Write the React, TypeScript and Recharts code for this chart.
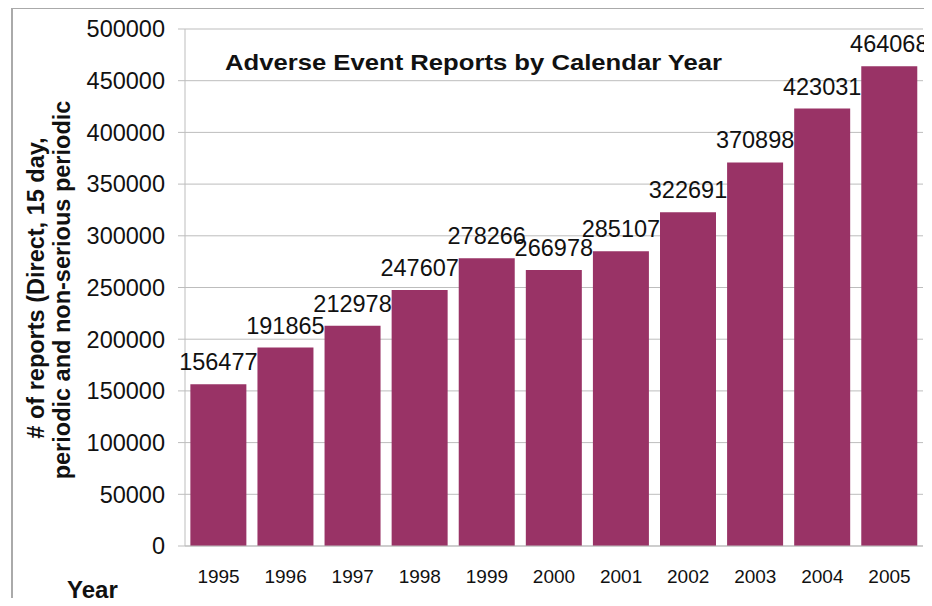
import { Bar, BarChart, CartesianGrid, LabelList, XAxis, YAxis } from "recharts";

const years = ["1995", "1996", "1997", "1998", "1999", "2000", "2001", "2002", "2003", "2004", "2005"];
const reports = [156477, 191865, 212978, 247607, 278266, 266978, 285107, 322691, 370898, 423031, 464068];
const yTicks = [0, 50000, 100000, 150000, 200000, 250000, 300000, 350000, 400000, 450000, 500000];

const data = years.map((year, i) => ({ year, reports: reports[i] }));

const FONT = "'Liberation Sans', Arial, sans-serif";
const BAR_COLOR = "#993366";
const GRID = "#bdbdbd";

export default function App() {
  return (
    <div style={{ position: "relative", width: 932, height: 606, margin: -8, background: "#fff", fontFamily: FONT }}>
      {/* frame */}
      <div
        style={{
          position: "absolute",
          left: 11,
          top: 7,
          right: -2,
          bottom: -2,
          borderLeft: "2px solid #aaa",
          borderTop: "2px solid #aaa",
        }}
      />
      <BarChart
        width={932}
        height={606}
        data={data}
        margin={{ top: 29, right: 9, left: 0, bottom: 30 }}
        barCategoryGap="8%"
        style={{ position: "absolute", left: 0, top: 0 }}
      >
        <CartesianGrid stroke={GRID} vertical={false} />
        <XAxis
          dataKey="year"
          height={30}
          tickLine={false}
          axisLine={{ stroke: GRID }}
          tickMargin={18}
          tick={{ fill: "#111", fontSize: 19, fontFamily: FONT }}
          interval={0}
        />
        <YAxis
          width={185}
          domain={[0, 500000]}
          ticks={yTicks}
          interval={0}
          tickSize={7}
          tickMargin={13}
          tickLine={{ stroke: GRID }}
          axisLine={{ stroke: GRID }}
          tick={{ fill: "#111", fontSize: 23.5, fontFamily: FONT }}
        />
        <Bar dataKey="reports" fill={BAR_COLOR} isAnimationActive={false}>
          <LabelList
            dataKey="reports"
            position="top"
            offset={14}
            style={{ fill: "#111", fontSize: 23.5, fontFamily: FONT }}
          />
        </Bar>
      </BarChart>
      <svg
        width={932}
        height={606}
        style={{ position: "absolute", left: 0, top: 0, pointerEvents: "none" }}
      >
        <text
          x={225}
          y={70}
          fontSize={22}
          fontWeight="bold"
          fill="#111"
          fontFamily={FONT}
          textLength={497}
          lengthAdjust="spacingAndGlyphs"
        >
          Adverse Event Reports by Calendar Year
        </text>
        <text
          transform="translate(44 288) rotate(-90)"
          textAnchor="middle"
          fontSize={23.5}
          fontWeight="bold"
          fill="#111"
          fontFamily={FONT}
        >
          # of reports (Direct, 15 day,
        </text>
        <text
          transform="translate(70 290) rotate(-90)"
          textAnchor="middle"
          fontSize={23.5}
          fontWeight="bold"
          fill="#111"
          fontFamily={FONT}
        >
          periodic and non-serious periodic
        </text>
        <text x={67} y={598} fontSize={24} fontWeight="bold" fill="#111" fontFamily={FONT}>
          Year
        </text>
      </svg>
    </div>
  );
}
